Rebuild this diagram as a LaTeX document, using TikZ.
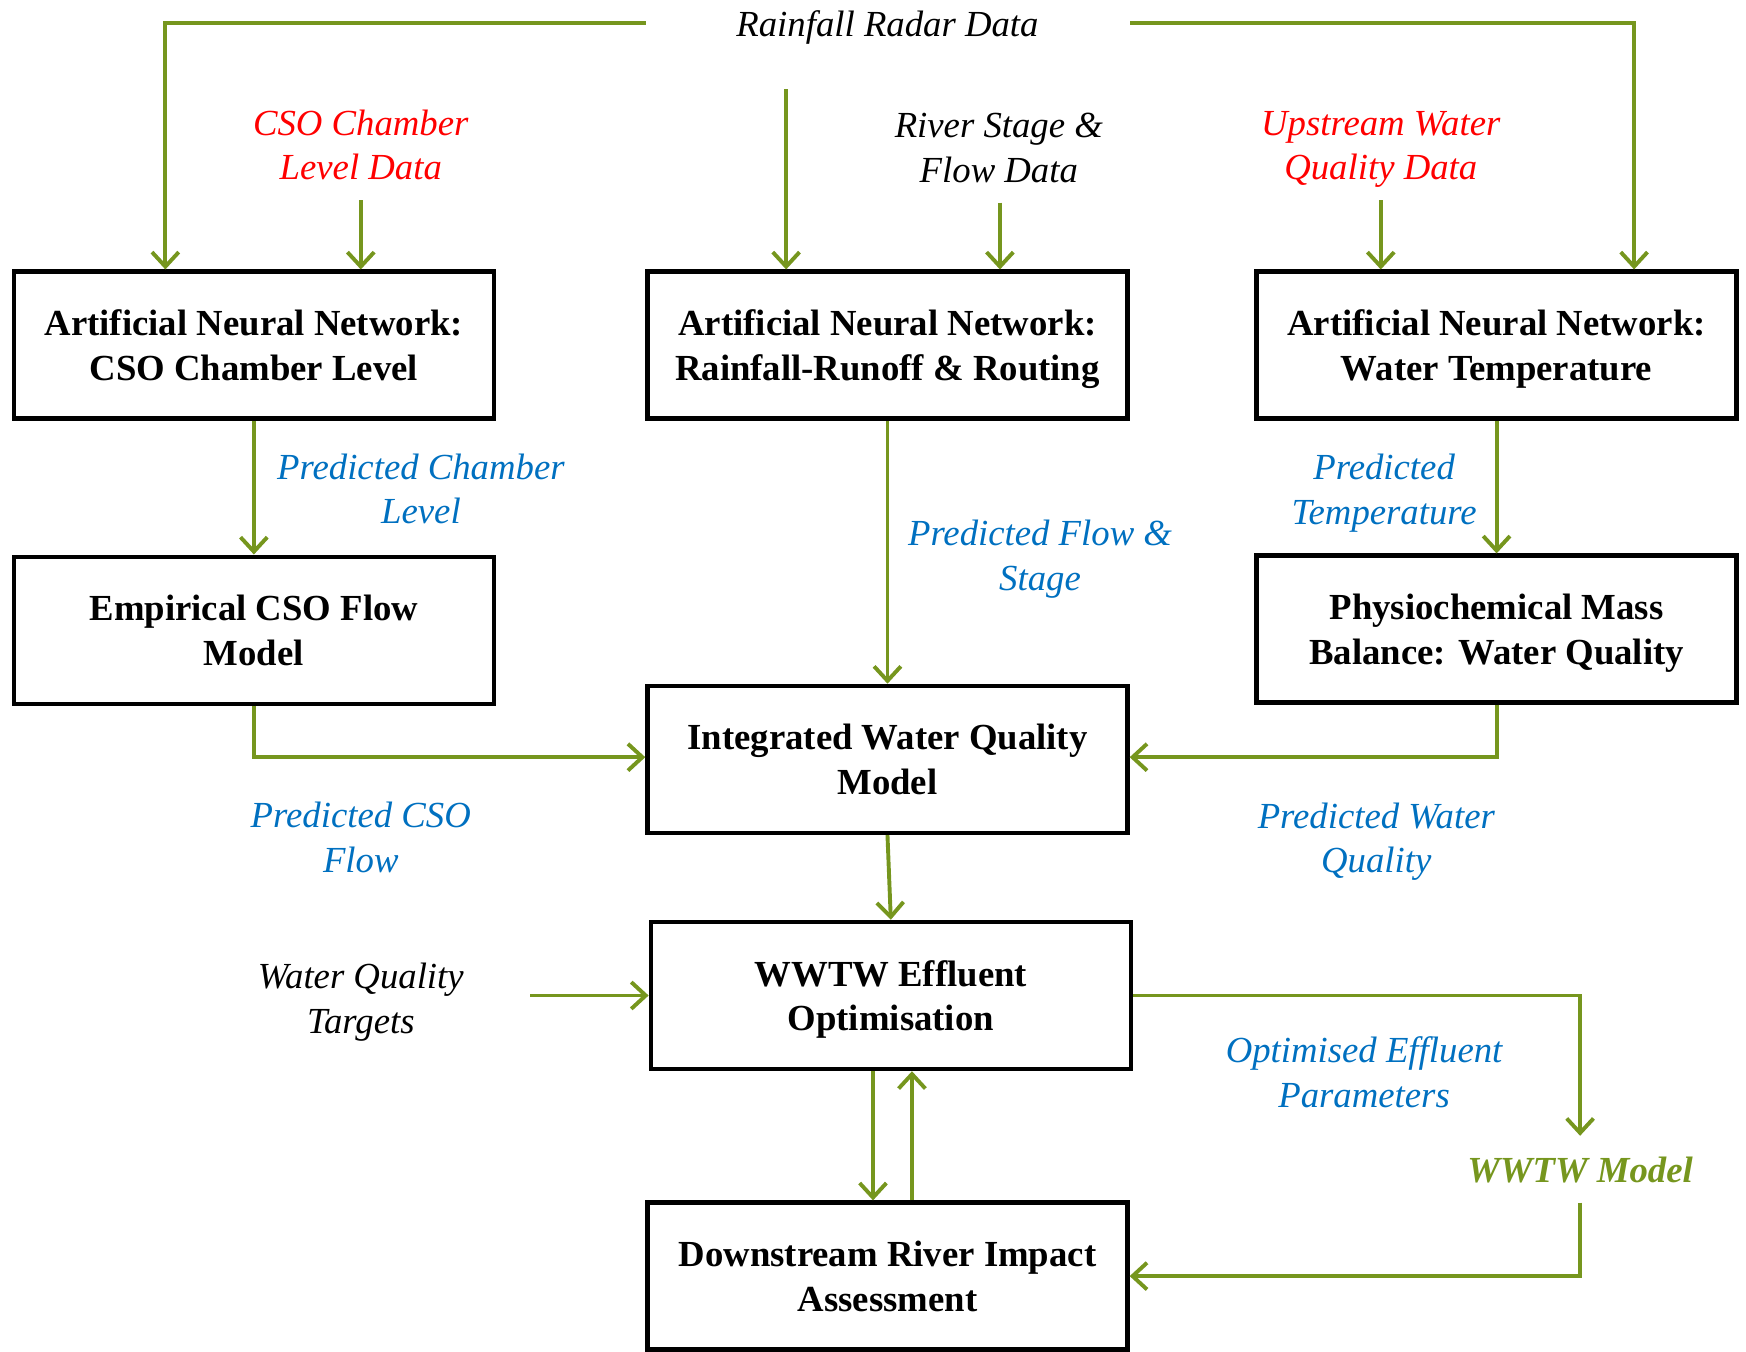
\documentclass[tikz,border=0pt]{standalone}
\usepackage{fontspec}
\setmainfont{Liberation Serif}
\usetikzlibrary{arrows.meta}
\definecolor{lgreen}{RGB}{118,150,30}
\definecolor{lblue}{RGB}{0,112,192}
\definecolor{lred}{RGB}{255,0,0}
\begin{document}
\begin{tikzpicture}[x=1pt,y=-1pt,
  box/.style={draw=black,line width=4pt,minimum width=431pt,minimum height=132pt,inner sep=0pt,align=center,text height=71pt,text depth=8pt,font=\fontsize{33}{40}\selectfont\bfseries},
  lab/.style={align=center,inner sep=0pt,font=\fontsize{33}{40}\selectfont\itshape},
  arr/.style={draw=lgreen,line width=3.5pt,-{Straight Barb[length=13pt,width=24pt]}},
  ln/.style={draw=lgreen,line width=3.5pt}]
\useasboundingbox (0,0) rectangle (1568,1214);
% boxes
\node[box] (b1) at (228,310) {Artificial Neural Network:\\CSO Chamber Level};
\node[box] (b2) at (797,310) {Artificial Neural Network:\\Rainfall-Runoff \& Routing};
\node[box] (b3) at (1344,310) {Artificial Neural Network:\\Water Temperature};
\node[box] (b4) at (228,566) {Empirical CSO Flow\\Model};
\node[box] (b5) at (1344,565) {Physiochemical Mass\\Balance: Water Quality};
\node[box] (b6) at (797,682) {Integrated Water Quality\\Model};
\node[box] (b7) at (800,894) {WWTW Effluent\\Optimisation};
\node[box] (b8) at (797,1146) {Downstream River Impact\\Assessment};
% labels
\node[lab] (rain) at (797,25) {Rainfall Radar Data};
\node[lab,text=lred] (cso) at (324,130) {CSO Chamber\\Level Data};
\node[lab] (river) at (897,133) {River Stage \&\\Flow Data};
\node[lab,text=lred] (up) at (1240,134) {Upstream Water\\Quality Data};
\node[lab,text=lblue] (pcl) at (378,439) {Predicted Chamber\\Level};
\node[lab,text=lblue] (pt) at (1243,443) {Predicted\\Temperature};
\node[lab,text=lblue] (pfs) at (934,502) {Predicted Flow \&\\Stage};
\node[lab,text=lblue] (pcf) at (324,752) {Predicted CSO\\Flow};
\node[lab,text=lblue] (pwq) at (1236,756) {Predicted Water\\Quality};
\node[lab] (wqt) at (324,900) {Water Quality\\Targets};
\node[lab,text=lblue] (oep) at (1225,963) {Optimised Effluent\\Parameters};
\node[lab,text=lgreen,font=\fontsize{33}{40}\selectfont\bfseries\itshape] (wm) at (1419,1051) {WWTW Model};
% free ends
\coordinate (rl) at (580,21);
\coordinate (rr) at (1015,21);
\coordinate (rm) at (706,80);
\coordinate (csoa) at (324,180);
\coordinate (rivera) at (898,182);
\coordinate (upa) at (1240,180);
\coordinate (wqta) at (476,894);
\coordinate (wmin) at (1419,1020);
\coordinate (wmout) at (1419,1080);
% connectors
\draw[arr] (rl) -| ([xshift=138pt]b1.north west);
\draw[arr] (rr) -| ([xshift=-94pt]b3.north east);
\draw[arr] (rm) -- (rm |- b2.north);
\draw[arr] (csoa) -- (csoa |- b1.north);
\draw[arr] (rivera) -- (rivera |- b2.north);
\draw[arr] (upa) -- (upa |- b3.north);
\draw[arr] (b1.south) -- (b4.north);
\draw[arr] (b3.south) -- (b5.north);
\draw[arr] (b2.south) -- (b6.north);
\draw[arr] (b4.south) |- ([yshift=2pt]b6.west);
\draw[arr] (b5.south) |- ([yshift=2pt]b6.east);
\draw[arr] (b6.south) -- (b7.north);
\draw[arr] (wqta) -- (b7.west);
\draw[arr] (b7.east) -| (wmin);
\draw[arr] (wmout) |- (b8.east);
\draw[arr] ([xshift=-16pt]b7.south) -- ([xshift=-16pt]b7.south |- b8.north);
\draw[arr] ([xshift=19pt]b7.south |- b8.north) -- ([xshift=19pt]b7.south);
\end{tikzpicture}
\end{document}
